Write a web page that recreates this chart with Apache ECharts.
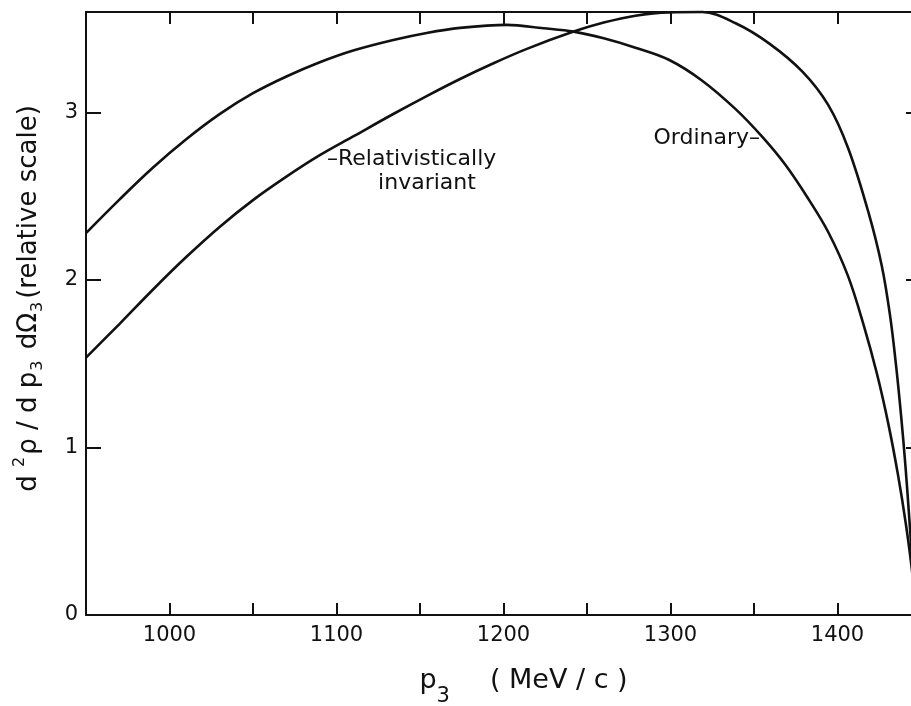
<!DOCTYPE html>
<html>
<head>
<meta charset="utf-8">
<script src="https://cdn.jsdelivr.net/npm/echarts@6/dist/echarts.min.js"></script>
<style>
  html, body { margin: 0; padding: 0; background: #fff; }
  #chart { width: 911px; height: 706px; }
</style>
</head>
<body>
<div id="chart"></div>
<script>
// Momentum p3 (MeV/c) and spectrum values (relative scale), ordinary phase space
const ordinaryP = [950, 970, 990, 1010, 1030, 1050, 1070, 1090, 1110, 1134, 1154, 1174, 1202, 1224, 1242, 1260, 1279, 1299, 1319, 1339, 1355, 1369, 1382.5, 1394.5, 1406.2, 1415.5, 1423.7, 1430.5, 1436.2, 1441.0, 1444.9, 1447];
const ordinaryY = [2.28, 2.48, 2.67, 2.84, 2.99, 3.115, 3.215, 3.30, 3.37, 3.433, 3.475, 3.505, 3.523, 3.503, 3.483, 3.443, 3.387, 3.315, 3.19, 3.02, 2.854, 2.685, 2.485, 2.285, 2.026, 1.737, 1.437, 1.138, 0.838, 0.539, 0.24, 0.0];

// Relativistically invariant phase space
const invariantP = [950, 970, 990, 1010, 1030, 1050, 1070, 1090, 1110, 1134, 1154, 1174, 1194, 1214, 1242, 1260, 1279, 1299, 1319, 1339, 1359, 1379, 1394.5, 1406.5, 1418.5, 1426.5, 1431.5, 1435.1, 1438.1, 1440.7, 1442.9, 1444.9, 1446.4];
const invariantY = [1.537, 1.737, 1.942, 2.137, 2.317, 2.477, 2.617, 2.745, 2.857, 2.991, 3.098, 3.20, 3.294, 3.38, 3.483, 3.537, 3.578, 3.598, 3.60, 3.533, 3.413, 3.244, 3.044, 2.784, 2.405, 2.085, 1.786, 1.487, 1.187, 0.888, 0.589, 0.289, 0.0];

// Axis ticks
const xTickLabels = [1000, 1100, 1200, 1300, 1400];
const yTickLabels = [0, 1, 2, 3];

// Where the curve captions attach (p3, value)
const ordinaryTag = [1353.6, 2.844];
const invariantTag = [1094.3, 2.719];
const invariantTag2 = [1124.9, 2.575];

const zip = (xs, ys) => xs.map((x, i) => [x, ys[i]]);

const FONT = 'DejaVu Sans';
const INK = '#111';

const chart = echarts.init(document.getElementById('chart'), null, { renderer: 'canvas' });

const frameLine = { show: true, onZero: false, lineStyle: { color: INK, width: 2 } };
const tick = len => ({ show: true, inside: true, length: len, lineStyle: { color: INK, width: 2 } });

chart.setOption({
  animation: false,
  backgroundColor: '#fff',
  grid: { left: 86, top: 12, width: 835, height: 603, containLabel: false, outerBoundsMode: 'none' },
  xAxis: [
    {
      type: 'value', position: 'bottom', min: 950, max: 1450, interval: 50,
      axisLine: frameLine, splitLine: { show: false }, axisTick: tick(12),
      axisLabel: {
        show: true, margin: 10, color: INK, fontFamily: FONT, fontSize: 21,
        formatter: v => (xTickLabels.indexOf(v) >= 0 ? String(v) : '')
      },
      name: '{p|p}{s|3}{g|}{u|( MeV / c )}',
      nameLocation: 'middle', nameGap: 48,
      nameTextStyle: {
        padding: [0, 0, 0, 40],
        rich: {
          p: { fontFamily: FONT, fontSize: 27, color: INK, lineHeight: 36 },
          s: { fontFamily: FONT, fontSize: 21, color: INK, lineHeight: 21, verticalAlign: 'bottom', padding: [0, 0, -8, 0] },
          g: { width: 40 },
          u: { fontFamily: FONT, fontSize: 27, color: INK, lineHeight: 36 }
        }
      }
    },
    {
      type: 'value', position: 'top', min: 950, max: 1450, interval: 50,
      axisLine: frameLine, splitLine: { show: false }, axisTick: tick(12),
      axisLabel: { show: false }
    }
  ],
  yAxis: [
    {
      type: 'value', position: 'left', min: 0, max: 3.6, interval: 1,
      axisLine: frameLine, splitLine: { show: false }, axisTick: tick(15),
      axisLabel: {
        show: true, margin: 8, color: INK, fontFamily: FONT, fontSize: 21,
        showMaxLabel: false,
        formatter: v => (yTickLabels.indexOf(v) >= 0 ? String(v) : '')
      },
      name: '{t|d }{sup|2}{t|ρ / d p}{sub|3}{t| dΩ}{sub|3}{t|(relative scale)}',
      nameLocation: 'middle', nameRotate: 90, nameGap: 40,
      nameTextStyle: {
        padding: [0, 0, 0, 30],
        rich: {
          t: { fontFamily: FONT, fontSize: 26, color: INK, lineHeight: 34 },
          sup: { fontFamily: FONT, fontSize: 16, color: INK, lineHeight: 16, verticalAlign: 'top', padding: [0, 2, 0, 0] },
          sub: { fontFamily: FONT, fontSize: 16, color: INK, lineHeight: 16, verticalAlign: 'bottom', padding: [0, 3, 0, 1] }
        }
      }
    },
    {
      type: 'value', position: 'right', min: 0, max: 3.6, interval: 1,
      axisLine: frameLine, splitLine: { show: false }, axisTick: tick(15),
      axisLabel: { show: false }
    }
  ],
  series: [
    {
      name: 'Ordinary',
      type: 'line',
      data: zip(ordinaryP, ordinaryY),
      smooth: 0.35,
      showSymbol: false,
      clip: false,
      lineStyle: { color: INK, width: 2.6 },
      markPoint: {
        symbol: 'circle', symbolSize: 0, silent: true,
        label: {
          show: true, position: 'left', distance: 0,
          color: INK, fontFamily: FONT, fontSize: 22,
          formatter: 'Ordinary–'
        },
        data: [{ coord: ordinaryTag }]
      }
    },
    {
      name: 'Relativistically invariant',
      type: 'line',
      data: zip(invariantP, invariantY),
      smooth: 0.35,
      showSymbol: false,
      clip: false,
      lineStyle: { color: INK, width: 2.6 },
      markPoint: {
        symbol: 'circle', symbolSize: 0, silent: true,
        label: {
          show: true, position: 'right', distance: 0,
          color: INK, fontFamily: FONT, fontSize: 22
        },
        data: [
          { coord: invariantTag, label: { formatter: '–Relativistically' } },
          { coord: invariantTag2, label: { formatter: 'invariant' } }
        ]
      }
    }
  ]
});
</script>
</body>
</html>
